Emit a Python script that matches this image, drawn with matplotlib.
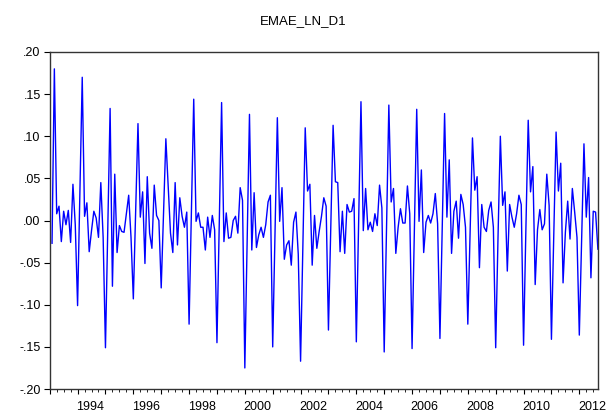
import matplotlib
matplotlib.use("Agg")
import matplotlib.pyplot as plt
import numpy as np

# monthly log-difference of EMAE, 1993M02 .. 2012M09
emae_ln_d1 = [
    -0.027, 0.180, 0.008, 0.017, -0.025, 0.011, -0.005, 0.012, -0.026, 0.043, -0.005,
    -0.101, 0.035, 0.170, 0.005, 0.021, -0.037, -0.012, 0.011, 0.003, -0.020, 0.045, -0.020,
    -0.151, -0.010, 0.133, -0.078, 0.055, -0.038, -0.006, -0.013, -0.014, 0.008, 0.030, -0.020,
    -0.093, 0.010, 0.115, 0.004, 0.034, -0.051, 0.052, -0.015, -0.033, 0.042, 0.006, 0.000,
    -0.080, 0.010, 0.097, 0.040, -0.015, -0.038, 0.045, -0.029, 0.027, 0.005, -0.008, 0.010,
    -0.123, 0.010, 0.144, -0.001, 0.009, -0.008, -0.008, -0.035, 0.004, -0.020, 0.006, -0.011,
    -0.145, 0.000, 0.140, -0.025, 0.009, -0.021, -0.020, 0.000, 0.005, -0.015, 0.039, 0.024,
    -0.175, -0.025, 0.126, -0.035, 0.033, -0.032, -0.017, -0.008, -0.020, -0.005, 0.022, 0.030,
    -0.150, -0.014, 0.122, -0.001, 0.039, -0.046, -0.029, -0.024, -0.053, -0.002, 0.010, -0.040,
    -0.167, -0.030, 0.110, 0.035, 0.043, -0.053, 0.006, -0.033, -0.013, 0.005, 0.027, 0.017,
    -0.130, -0.010, 0.113, 0.046, 0.045, -0.037, 0.011, -0.039, 0.019, 0.010, 0.011, 0.026,
    -0.144, 0.000, 0.141, -0.012, 0.038, -0.011, -0.002, -0.013, 0.008, -0.006, 0.042, 0.015,
    -0.156, -0.010, 0.137, 0.022, 0.038, -0.039, -0.008, 0.014, -0.003, -0.003, 0.041, 0.008,
    -0.152, -0.010, 0.132, -0.001, 0.060, -0.038, -0.002, 0.006, -0.003, 0.008, 0.032, -0.004,
    -0.140, -0.005, 0.127, 0.004, 0.072, -0.039, 0.011, 0.023, -0.021, 0.031, 0.019, -0.008,
    -0.123, -0.010, 0.098, 0.036, 0.052, -0.056, 0.019, -0.008, -0.013, 0.012, 0.022, -0.008,
    -0.151, -0.020, 0.100, 0.018, 0.034, -0.060, 0.019, 0.004, -0.008, 0.008, 0.030, 0.019,
    -0.148, -0.010, 0.119, 0.034, 0.064, -0.076, -0.011, 0.013, -0.011, -0.004, 0.055, 0.018,
    -0.141, -0.020, 0.105, 0.035, 0.068, -0.074, -0.014, 0.023, -0.022, 0.038, 0.010, -0.020,
    -0.136, -0.020, 0.091, 0.004, 0.051, -0.068, 0.011, 0.010, -0.034,
]
start_year = 1993
year_labels = ["1994", "1996", "1998", "2000", "2002", "2004", "2006", "2008", "2010", "2012"]
y_ticks = [-0.20, -0.15, -0.10, -0.05, 0.00, 0.05, 0.10, 0.15, 0.20]
y_labels = ["-.20", "-.15", "-.10", "-.05", ".00", ".05", ".10", ".15", ".20"]

plt.rcParams['font.family'] = ['Liberation Sans', 'DejaVu Sans']

# first month is the NA of the difference, so data starts one month in
t = start_year + np.arange(1, len(emae_ln_d1) + 1) / 12.0

fig = plt.figure(figsize=(6.07, 4.17), dpi=100)
ax = fig.add_axes([0.0819, 0.0671, 0.9031, 0.8082])
ax.plot(t, emae_ln_d1, color='#0000ff', lw=1.0)
ax.set_xlim(start_year, t[-1])
ax.set_ylim(-0.20, 0.20)

ax.set_yticks(y_ticks)
ax.set_yticklabels(y_labels, fontsize=9)
ax.tick_params(axis='y', direction='out', length=4.5, width=0.8, pad=2, right=False)

years = np.arange(1993, 2013)
ax.set_xticks(years)
ax.set_xticklabels([])
ax.set_xticks(np.arange(1993, 2012.75, 0.25), minor=True)
ax.tick_params(axis='x', which='major', direction='out', length=3.5, width=0.8, top=False)
ax.tick_params(axis='x', which='minor', direction='out', length=2, width=0.6, top=False)
for lab in year_labels:
    ax.text(int(lab) + 0.45, -0.035, lab, transform=ax.get_xaxis_transform(),
            ha='center', va='top', fontsize=9)

for s in ax.spines.values():
    s.set_color('#333333')
    s.set_linewidth(1.0)

fig.suptitle('EMAE_LN_D1', y=0.965, fontsize=9.5)
fig.savefig('out.png', dpi=100)
